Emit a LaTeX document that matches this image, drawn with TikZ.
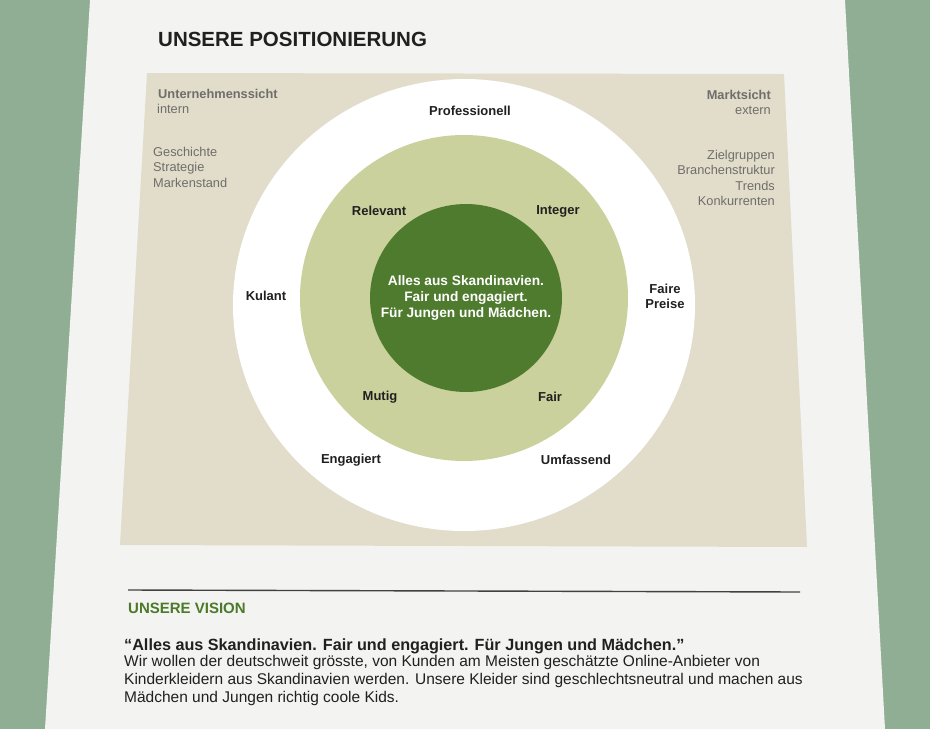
\documentclass[tikz,border=0pt]{standalone}
\usepackage{fontspec}
\setmainfont{Liberation Sans}
\definecolor{bgGreen}{HTML}{8FAE93}
\definecolor{paper}{HTML}{F3F3F1}
\definecolor{beige}{HTML}{E2DCCB}
\definecolor{lightGreen}{HTML}{CAD19C}
\definecolor{darkGreen}{HTML}{4F7B2F}
\definecolor{grayText}{HTML}{6E6E6A}
\definecolor{titleText}{HTML}{202020}
\definecolor{visionGreen}{HTML}{4A7A2A}
\tikzset{
  ringlabel/.style={font=\fontsize{13}{15}\selectfont\bfseries, text=titleText, inner sep=0pt, align=center},
  sidehead/.style={font=\fontsize{12.8}{14}\selectfont\bfseries, text=grayText, inner sep=0pt},
  sidetext/.style={font=\fontsize{12.8}{15.3}\selectfont, text=grayText, inner sep=0pt},
  bodyline/.style={font=\fontsize{15.5}{18}\selectfont, text=titleText, inner sep=0pt, anchor=west},
}
\begin{document}
\begin{tikzpicture}[x=1pt,y=-1pt]
\useasboundingbox (0,0) rectangle (930,729);
% background and paper
\fill[bgGreen] (0,0) rectangle (930,729);
\fill[paper] (90,0) -- (845,0) -- (885,729) -- (45,729) -- cycle;
% beige panel
\fill[beige] (147,73) -- (784,74) -- (807,547) -- (120,545) -- cycle;
% circles
\fill[white] (464,305) ellipse [x radius=231, y radius=226];
\fill[lightGreen] (464,298) ellipse [x radius=164, y radius=163];
\fill[darkGreen] (466,298) ellipse [x radius=96, y radius=94];
% title
\node[font=\fontsize{20.5}{22}\selectfont\bfseries, text=titleText, anchor=west, inner sep=0pt] (title) at (158,39) {UNSERE POSITIONIERUNG};
% left side
\node[sidehead, anchor=west] (usicht) at (158,94) {Unternehmenssicht};
\node[sidetext, anchor=west] (intern) at (157,109) {intern};
\node[sidetext, anchor=north west, align=left] (ulist) at (153,147) {Geschichte\\Strategie\\Markenstand};
% right side
\node[sidehead, anchor=east] (msicht) at (771,95) {Marktsicht};
\node[sidetext, anchor=east] (extern) at (771,110) {extern};
\node[sidetext, anchor=north east, align=right] (mlist) at (775,150) {Zielgruppen\\Branchenstruktur\\Trends\\Konkurrenten};
% ring labels
\node[ringlabel] (prof) at (470,111) {Professionell};
\node[ringlabel] (kulant) at (266,296) {Kulant};
\node[ringlabel, font=\fontsize{13}{15}\selectfont\bfseries] (faire) at (665,296) {Faire\\Preise};
\node[ringlabel] (engag) at (351,460) {Engagiert};
\node[ringlabel] (umf) at (576,460) {Umfassend};
\node[ringlabel] (relev) at (379,211) {Relevant};
\node[ringlabel] (integ) at (558,211) {Integer};
\node[ringlabel] (mutig) at (380,397) {Mutig};
\node[ringlabel] (fair) at (550,397) {Fair};
\node[font=\fontsize{13.7}{16}\selectfont\bfseries, text=white, align=center, inner sep=0pt] (core) at (466,298) {Alles aus Skandinavien.\\Fair und engagiert.\\Für Jungen und Mädchen.};
% rule
\coordinate (ruleL) at (128,590);
\coordinate (ruleR) at (800,592);
\draw[line width=1.4pt, draw=titleText!85] (ruleL) -- (ruleR);
% vision
\node[font=\fontsize{15}{17}\selectfont\bfseries, text=visionGreen, anchor=west, inner sep=0pt] (vision) at (128,608) {UNSERE VISION};
\node[font=\fontsize{16.2}{18}\selectfont\bfseries, text=titleText, anchor=west, inner sep=0pt] (quote) at (124,646) {“Alles aus Skandinavien. Fair und engagiert. Für Jungen und Mädchen.”};
\node[bodyline] (body1) at (124,662) {Wir wollen der deutschweit grösste, von Kunden am Meisten geschätzte Online-Anbieter von};
\node[bodyline] (body2) at (124,680) {Kinderkleidern aus Skandinavien werden. Unsere Kleider sind geschlechtsneutral und machen aus};
\node[bodyline] (body3) at (124,698) {Mädchen und Jungen richtig coole Kids.};
\end{tikzpicture}
\end{document}
